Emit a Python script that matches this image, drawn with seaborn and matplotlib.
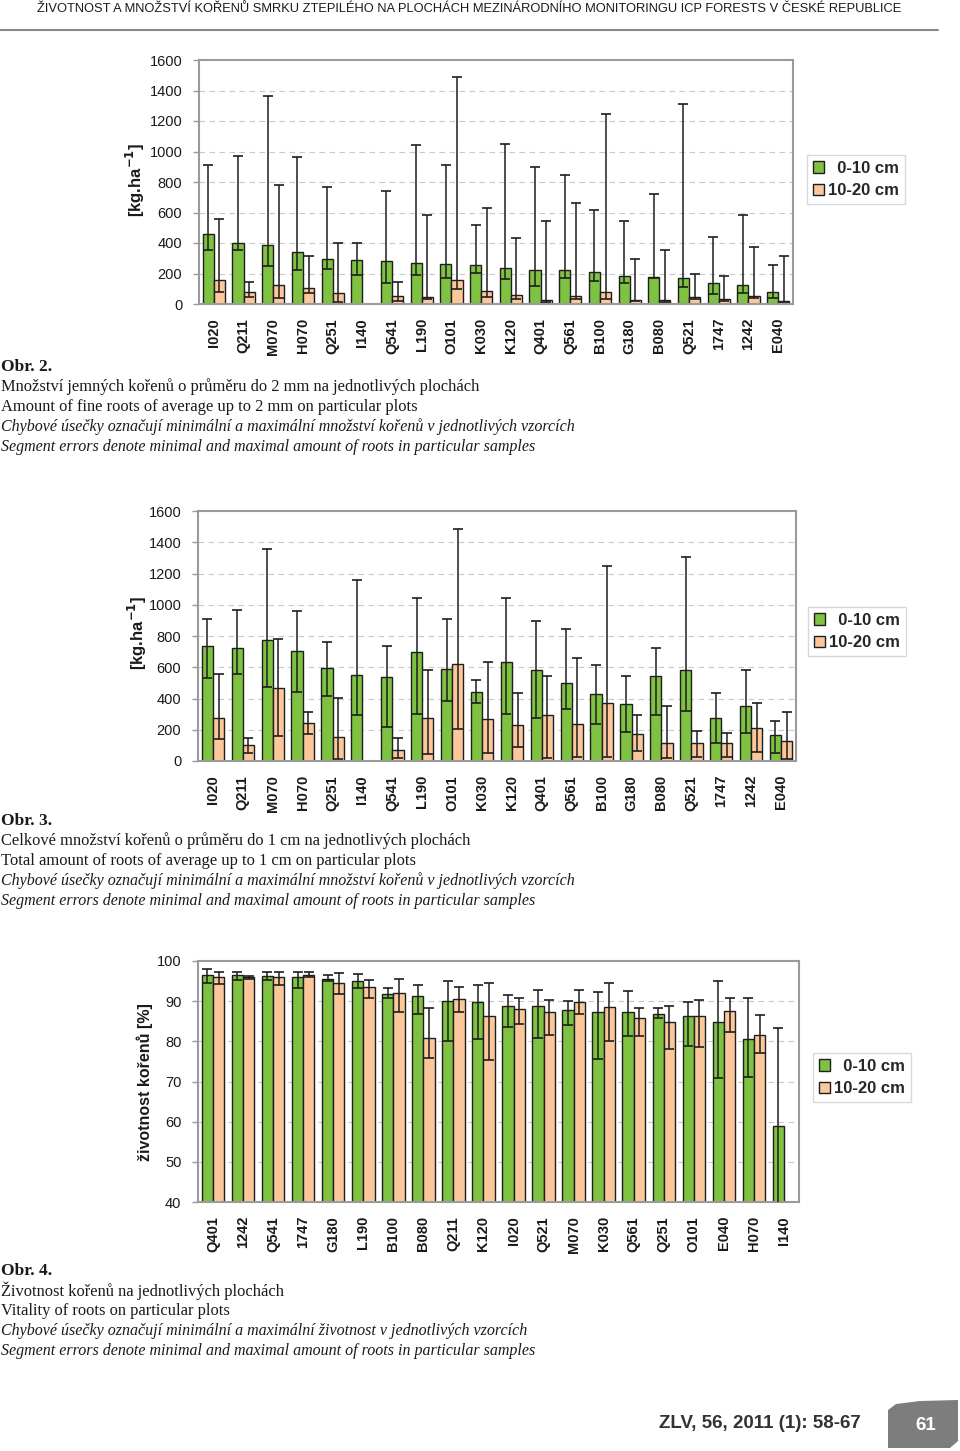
import numpy as np
import pandas as pd
import matplotlib
matplotlib.use("Agg")
import matplotlib.pyplot as plt
import seaborn as sns
from matplotlib import font_manager
from matplotlib.patches import Patch, Polygon

# --- data ---
plots_a = ["I020", "Q211", "M070", "H070", "Q251", "I140", "Q541", "L190", "O101", "K030",
           "K120", "Q401", "Q561", "B100", "G180", "B080", "Q521", "1747", "1242", "E040"]

# Obr. 2 - fine roots [kg/ha]
fine_top = [456, 403, 384, 340, 292, 290, 281, 272, 262, 257, 238, 225, 222, 209, 185, 177, 168, 137, 124, 78]
fine_top_min = [357, 353, 249, 220, 227, 190, 140, 190, 170, 203, 166, 120, 170, 153, 140, 170, 109, 65, 74, 41]
fine_top_max = [913, 972, 1365, 961, 765, 397, 741, 1044, 913, 517, 1046, 898, 848, 617, 547, 724, 1312, 438, 582, 259]
fine_sub = [155, 76, 122, 105, 72, 0, 52, 46, 155, 83, 59, 26, 52, 78, 28, 24, 46, 30, 50, 20]
fine_sub_min = [81, 48, 39, 72, 10, 0, 20, 35, 100, 48, 35, 13, 30, 35, 20, 15, 30, 20, 37, 13]
fine_sub_max = [558, 146, 783, 318, 401, 0, 146, 582, 1487, 632, 434, 547, 660, 1249, 294, 351, 196, 181, 375, 314]

# Obr. 3 - total roots [kg/ha]
total_top = [738, 721, 776, 706, 593, 550, 540, 697, 587, 439, 633, 584, 499, 431, 367, 544, 582, 277, 352, 164]
total_top_min = [529, 557, 476, 444, 414, 294, 220, 303, 382, 373, 299, 273, 333, 239, 188, 296, 318, 115, 181, 51]
total_top_max = [909, 968, 1359, 958, 761, 1158, 738, 1045, 909, 516, 1045, 898, 847, 612, 546, 721, 1308, 435, 580, 258]
total_sub = [275, 102, 465, 243, 151, 0, 73, 275, 623, 267, 230, 292, 239, 373, 173, 117, 115, 113, 209, 126]
total_sub_min = [139, 49, 160, 171, 10, 0, 17, 47, 207, 53, 87, 20, 23, 28, 66, 17, 28, 28, 60, 13]
total_sub_max = [555, 145, 779, 316, 401, 0, 145, 582, 1482, 631, 433, 546, 659, 1246, 292, 350, 192, 179, 373, 311]

# Obr. 4 - vitality [%]
plots_b = ["Q401", "1242", "Q541", "1747", "G180", "L190", "B100", "B080", "Q211", "K120",
           "I020", "Q521", "M070", "K030", "Q561", "Q251", "O101", "E040", "H070", "I140"]
vit_top = [96.6, 96.4, 96.2, 96.0, 95.6, 94.9, 91.9, 91.2, 90.1, 89.8, 88.8, 88.8, 87.9, 87.3, 87.2, 86.9, 86.3, 84.8, 80.7, 58.8]
vit_top_min = [94.6, 95.2, 95.2, 93.4, 94.9, 93.4, 90.9, 86.9, 80.2, 80.7, 83.6, 80.9, 84.1, 75.6, 81.3, 85.7, 78.8, 70.9, 71.1, 35]
vit_top_max = [98.0, 97.3, 97.3, 97.3, 96.4, 96.8, 93.4, 94.0, 95.1, 94.0, 91.6, 92.9, 90.1, 92.2, 92.6, 88.3, 89.9, 94.9, 90.7, 83.2]
vit_sub = [96.0, 96.0, 95.9, 96.6, 94.6, 93.6, 92.0, 80.9, 90.5, 86.3, 88.1, 87.4, 89.8, 88.5, 85.8, 84.8, 86.3, 87.6, 81.7, 0]
vit_sub_min = [94.2, 95.6, 94.1, 95.9, 91.9, 90.9, 87.2, 75.9, 87.3, 75.4, 84.4, 81.5, 86.8, 80.2, 81.3, 78.0, 78.5, 82.4, 77.2, 0]
vit_sub_max = [97.2, 96.3, 97.3, 97.3, 97.1, 95.3, 95.6, 88.3, 93.5, 94.5, 90.8, 90.3, 92.9, 94.6, 88.4, 88.9, 90.4, 90.8, 86.6, 0]

layers = ["0-10 cm", "10-20 cm"]

GREEN = "#7fc241"
ORANGE = "#fcc89b"
EDGE = "#1e1e1e"
FRAME = "#9a9a9a"

sns.set_theme(style="white")
plt.rcParams["font.family"] = ["Liberation Sans", "DejaVu Sans"]

W, H = 960, 1451
fig = plt.figure(figsize=(W / 100, H / 100), dpi=100)


def rect(l, t, r, b):
    return [l / W, 1 - b / H, (r - l) / W, (b - t) / H]


def panel(box, plots, top, top_min, top_max, sub, sub_min, sub_max, ylim, step, leg_xy):
    ax = fig.add_axes(rect(*box))
    df = pd.DataFrame({
        "plot": plots * 2,
        "layer": [layers[0]] * len(plots) + [layers[1]] * len(plots),
        "value": top + sub,
    })
    sns.barplot(data=df, x="plot", y="value", hue="layer", order=plots, hue_order=layers,
                palette=[GREEN, ORANGE], width=0.75, gap=0, edgecolor=EDGE, linewidth=1.0,
                saturation=1, errorbar=None, legend=False, ax=ax)
    for cont, v, lo, hi in zip(ax.containers, [top, sub], [top_min, sub_min], [top_max, sub_max]):
        xs = np.array([b.get_x() + b.get_width() / 2 for b in cont])
        v, lo, hi = np.array(v, float), np.array(lo, float), np.array(hi, float)
        m = v > 0
        ax.errorbar(xs[m], v[m], yerr=[v[m] - lo[m], hi[m] - v[m]], fmt="none",
                    ecolor=EDGE, elinewidth=1.1, capsize=3.5, capthick=1.2, zorder=4)

    ax.set_ylim(*ylim)
    ax.set_xlim(-0.5, len(plots) - 0.5)
    yt = np.arange(ylim[0], ylim[1] + step / 2, step)
    ax.set_yticks(yt)
    ax.set_yticklabels([f"{int(t)}" for t in yt], fontsize=10.5, color="#1a1a1a")
    for t in yt[1:-1]:
        ax.axhline(t, color="#c8c8c8", lw=0.8, ls=(0, (5, 4)), zorder=0)
    ax.set_xticks(range(len(plots)))
    ax.set_xticklabels(plots, rotation=90, fontsize=10.5, fontweight="bold", color="#1a1a1a")
    ax.set_xticks(np.arange(len(plots) + 1) - 0.5, minor=True)
    ax.tick_params(axis="x", which="major", length=0, pad=10)
    ax.tick_params(axis="x", which="minor", length=4, color=FRAME, width=1, direction="out")
    ax.tick_params(axis="y", length=4, color=FRAME, width=1, direction="out", pad=8, left=True)
    ax.set_xlabel("")
    ax.set_ylabel("")
    for s in ax.spines.values():
        s.set_color(FRAME)
        s.set_linewidth(1.5)

    handles = [Patch(facecolor=GREEN, edgecolor=EDGE, label="  0-10 cm"),
               Patch(facecolor=ORANGE, edgecolor=EDGE, label="10-20 cm")]
    ax.legend(handles=handles, loc="upper left", bbox_to_anchor=(leg_xy[0] / W, 1 - leg_xy[1] / H),
              bbox_transform=fig.transFigure, frameon=True, fancybox=False, edgecolor="#cfcfcf",
              prop={"weight": "bold", "size": 12}, handlelength=0.65, handleheight=0.65,
              handletextpad=0.25, borderpad=0.35, labelspacing=0.45, borderaxespad=0)
    return ax


panel((199, 60, 793, 304), plots_a, fine_top, fine_top_min, fine_top_max,
      fine_sub, fine_sub_min, fine_sub_max, (0, 1600), 200, (807, 155))
panel((198, 511, 796, 761), plots_a, total_top, total_top_min, total_top_max,
      total_sub, total_sub_min, total_sub_max, (0, 1600), 200, (808, 607))
panel((198, 961, 799, 1202), plots_b, vit_top, vit_top_min, vit_top_max,
      vit_sub, vit_sub_min, vit_sub_max, (40, 100), 10, (813, 1053))

# y labels
ylab = "[kg.ha$^{\\mathbf{-1}}$]"
fig.text(135 / W, 1 - 180 / H, ylab, rotation=90, ha="center", va="center",
         fontsize=12, fontweight="bold", color="#1a1a1a")
fig.text(137 / W, 1 - 633 / H, ylab, rotation=90, ha="center", va="center",
         fontsize=12, fontweight="bold", color="#1a1a1a")
fig.text(145 / W, 1 - 1082 / H, "životnost kořenů [%]", rotation=90, ha="center", va="center",
         fontsize=11.5, fontweight="bold", color="#1a1a1a")

# captions
serif = ["Liberation Serif", "DejaVu Serif"]
captions = [
    (367, "Obr. 2.", ["Množství jemných kořenů o průměru do 2 mm na jednotlivých plochách",
                      "Amount of fine roots of average up to 2 mm on particular plots",
                      "Chybové úsečky označují minimální a maximální množství kořenů v jednotlivých vzorcích",
                      "Segment errors denote minimal and maximal amount of roots in particular samples"]),
    (821, "Obr. 3.", ["Celkové množství kořenů o průměru do 1 cm na jednotlivých plochách",
                      "Total amount of roots of average up to 1 cm on particular plots",
                      "Chybové úsečky označují minimální a maximální množství kořenů v jednotlivých vzorcích",
                      "Segment errors denote minimal and maximal amount of roots in particular samples"]),
    (1271, "Obr. 4.", ["Životnost kořenů na jednotlivých plochách",
                       "Vitality of roots on particular plots",
                       "Chybové úsečky označují minimální a maximální životnost v jednotlivých vzorcích",
                       "Segment errors denote minimal and maximal amount of roots in particular samples"]),
]
for y0, head, lines in captions:
    fig.text(1 / W, 1 - y0 / H, head, ha="left", va="center", family=serif,
             fontsize=12.5, fontweight="bold", color="#1a1a1a")
    for i, line in enumerate(lines):
        italic = i >= 2
        fig.text(1 / W, 1 - (y0 + 20 * (i + 1)) / H, line, ha="left", va="center", family=serif,
                 fontsize=11.5 if italic else 11.9, style="italic" if italic else "normal",
                 color="#1a1a1a")

# header (narrow face if there is one), fitted to the reference width
names = {f.name for f in font_manager.fontManager.ttflist}
hdr_family = ["Liberation Sans Narrow"] if "Liberation Sans Narrow" in names else ["Liberation Sans"]
hdr = fig.text(37 / W, 1 - 9 / H,
               "ŽIVOTNOST A MNOŽSTVÍ KOŘENŮ SMRKU ZTEPILÉHO NA PLOCHÁCH MEZINÁRODNÍHO MONITORINGU ICP FORESTS V ČESKÉ REPUBLICE",
               ha="left", va="center", fontsize=9, family=hdr_family + ["DejaVu Sans"], color="#1a1a1a")
renderer = fig.canvas.get_renderer()
wpx = hdr.get_window_extent(renderer).width
hdr.set_fontsize(9 * 865 / wpx)
fig.add_artist(plt.Line2D([0, 938 / W], [1 - 30 / H, 1 - 30 / H], transform=fig.transFigure,
                          color="#8a8a8a", lw=1.5))

# footer
fig.text(760 / W, 1 - 1424 / H, "ZLV, 56, 2011 (1): 58-67", ha="center", va="center",
         fontsize=13.5, fontweight="bold", color="#333333")
tab = [(888, 1448), (950, 1448), (958, 1441), (958, 1400), (920, 1401), (896, 1404), (888, 1410)]
fig.add_artist(Polygon([(x / W, 1 - y / H) for x, y in tab], closed=True, transform=fig.transFigure,
                       facecolor="#7d7d7d", edgecolor="none"))
fig.text(926 / W, 1 - 1425 / H, "61", ha="center", va="center", fontsize=13.5,
         fontweight="bold", color="white")

fig.savefig("out.png", dpi=100)
